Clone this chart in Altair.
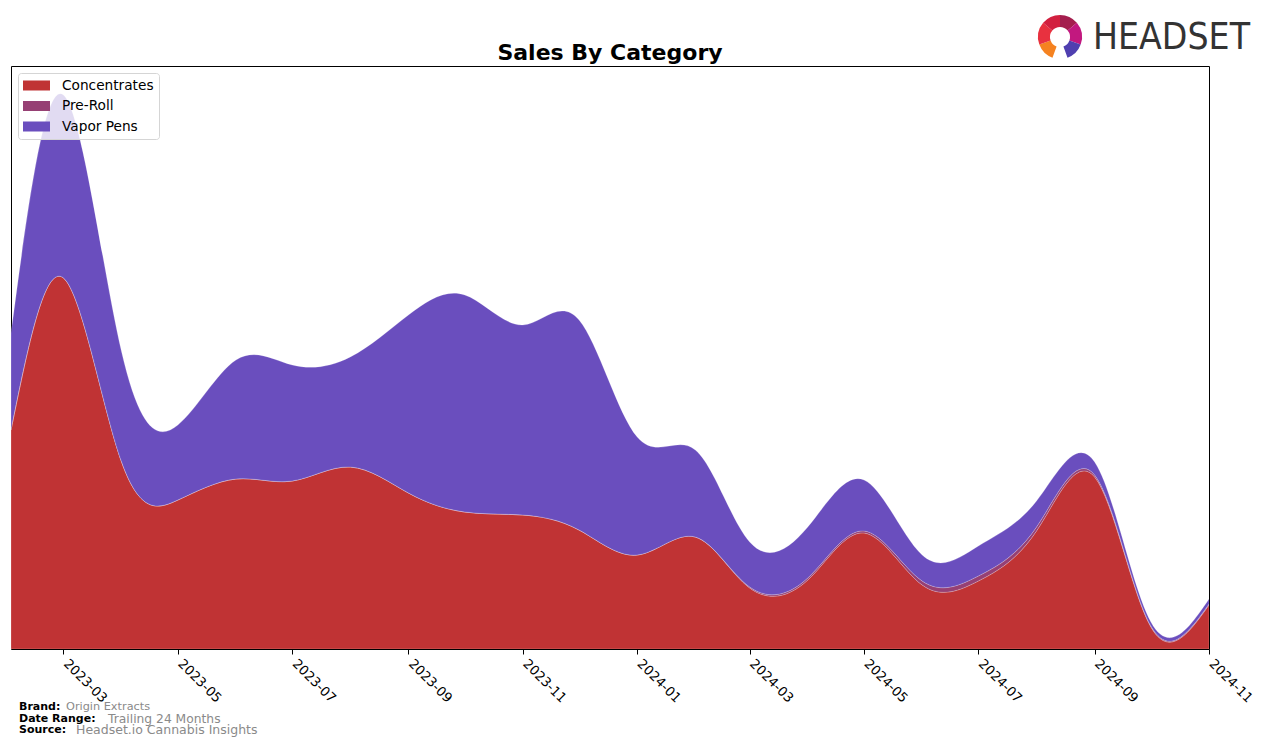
import altair as alt
import pandas as pd
import math

# ---- data (arbitrary units) ----
months = [
    "2023-02-01", "2023-03-01", "2023-04-01", "2023-05-01", "2023-06-01", "2023-07-01",
    "2023-08-01", "2023-09-01", "2023-10-01", "2023-11-01", "2023-12-01", "2024-01-01",
    "2024-02-01", "2024-03-01", "2024-04-01", "2024-05-01", "2024-06-01", "2024-07-01",
    "2024-08-01", "2024-09-01", "2024-10-01", "2024-11-01",
]
concentrates = [219, 371, 187, 149, 170, 168, 182, 156, 137, 134, 119, 94,
                112, 61, 69, 116, 64, 68, 118, 172, 22, 44]
pre_roll = [0, 0, 0, 0, 0, 0, 0, 0, 0, 0, 0, 0,
            0, 1, 2, 2, 4, 5, 4, 2, 1, 1]
vapor_pens = [97, 183, 110, 75, 119, 116, 110, 178, 217, 190, 210, 118,
              87, 45, 51, 51, 26, 30, 26, 13, 4, 5]

categories = ["Concentrates", "Pre-Roll", "Vapor Pens"]
colors = ["#C03334", "#964074", "#6A4EBE"]
tick_months = [(2023, 3), (2023, 5), (2023, 7), (2023, 9), (2023, 11), (2024, 1),
               (2024, 3), (2024, 5), (2024, 7), (2024, 9), (2024, 11)]

rows = []
for series, name in zip([concentrates, pre_roll, vapor_pens], categories):
    for m, v in zip(months, series):
        rows.append({"month": m, "category": name, "sales": v,
                     "ord": categories.index(name)})
df = pd.DataFrame(rows)

W, H = 1198, 583

areas = alt.Chart(df).mark_area(interpolate="natural", clip=True,
                                stroke="white", strokeWidth=0.4, strokeOpacity=0.5).encode(
    x=alt.X("month:T",
            scale=alt.Scale(type="utc",
                            domain=[alt.DateTime(year=2023, month=2, date=1, utc=True),
                                    alt.DateTime(year=2024, month=11, date=1, utc=True)]),
            axis=alt.Axis(values=[alt.DateTime(year=y, month=mo, date=1, utc=True)
                                  for y, mo in tick_months],
                          format="%Y-%m", title=None, grid=False, domain=False,
                          labelAngle=45, labelAlign="left", labelBaseline="top",
                          labelFont="DejaVu Sans", labelFontSize=13.2, labelColor="black",
                          labelPadding=3, labelOffset=6, tickColor="black", tickSize=5,
                          labelOverlap=False, labelFlush=False)),
    y=alt.Y("sales:Q", stack="zero", scale=alt.Scale(domain=[0, 583], nice=False, zero=True),
            axis=None),
    color=alt.Color("category:N",
                    scale=alt.Scale(domain=categories, range=colors),
                    legend=alt.Legend(title=None, orient="none", legendX=7, legendY=7,
                                      symbolType="M-1,-0.37H1V0.37H-1Z", symbolSize=729,
                                      symbolStrokeWidth=0, symbolOpacity=1,
                                      clipHeight=15, rowPadding=5.5, padding=5,
                                      labelFont="DejaVu Sans", labelFontSize=13.7,
                                      labelColor="black", labelOffset=12,
                                      strokeColor="#d5d5d5", fillColor="rgba(255,255,255,0.8)",
                                      cornerRadius=3)),
    order=alt.Order("ord:Q"),
)

one = pd.DataFrame({"a": [0]})

def txt(s, x, y, size, color, weight="normal", font="DejaVu Sans", align="left"):
    return alt.Chart(one).mark_text(text=s, align=align, baseline="middle",
                                    fontSize=size, color=color, fontWeight=weight,
                                    font=font).encode(x=alt.value(x), y=alt.value(y))

title = txt("Sales By Category", W / 2, -13, 22, "black", "bold", align="center")

footer = [
    txt("Brand:", 8, 641, 11, "black", "bold"),
    txt("Origin Extracts", 55, 641, 11.3, "#8a8a8a"),
    txt("Date Range:", 8, 653, 11, "black", "bold"),
    txt("Trailing 24 Months", 97, 653, 12.3, "#8a8a8a"),
    txt("Source:", 8, 664, 11, "black", "bold"),
    txt("Headset.io Cannabis Insights", 65, 664, 12.5, "#8a8a8a"),
]

# logo: "HEADSET" wordmark with a ring icon
logo_text = txt("HEADSET", 1082, -28, 37, "#333333",
                font="'DejaVu Sans Condensed', 'DejaVu Sans'")

logo_seg = pd.DataFrame({
    "t0": [math.radians(a) for a in [200, 250, 310, 0, 50, 110]],
    "t1": [math.radians(a) for a in [250, 310, 360, 50, 110, 160]],
    "c": ["#F58220", "#E8313F", "#D2203F", "#A41E4E", "#C2187F", "#4F3FB0"],
})
logo_icon = alt.Chart(logo_seg).mark_arc(innerRadius=10, outerRadius=22).encode(
    theta=alt.Theta("t0:Q", scale=None),
    theta2=alt.Theta2("t1:Q"),
    fill=alt.Fill("c:N", scale=None),
    x=alt.value(1049), y=alt.value(-29),
)

chart = alt.layer(areas, title, *footer, logo_text, logo_icon).properties(
    width=W, height=H,
    autosize=alt.AutoSizeParams(type="none"),
    padding={"left": 11, "top": 66, "right": 67, "bottom": 97},
).configure(background="white").configure_view(stroke="black", strokeWidth=1)

chart.save("out.html", embed_options={"renderer": "svg", "actions": False})
